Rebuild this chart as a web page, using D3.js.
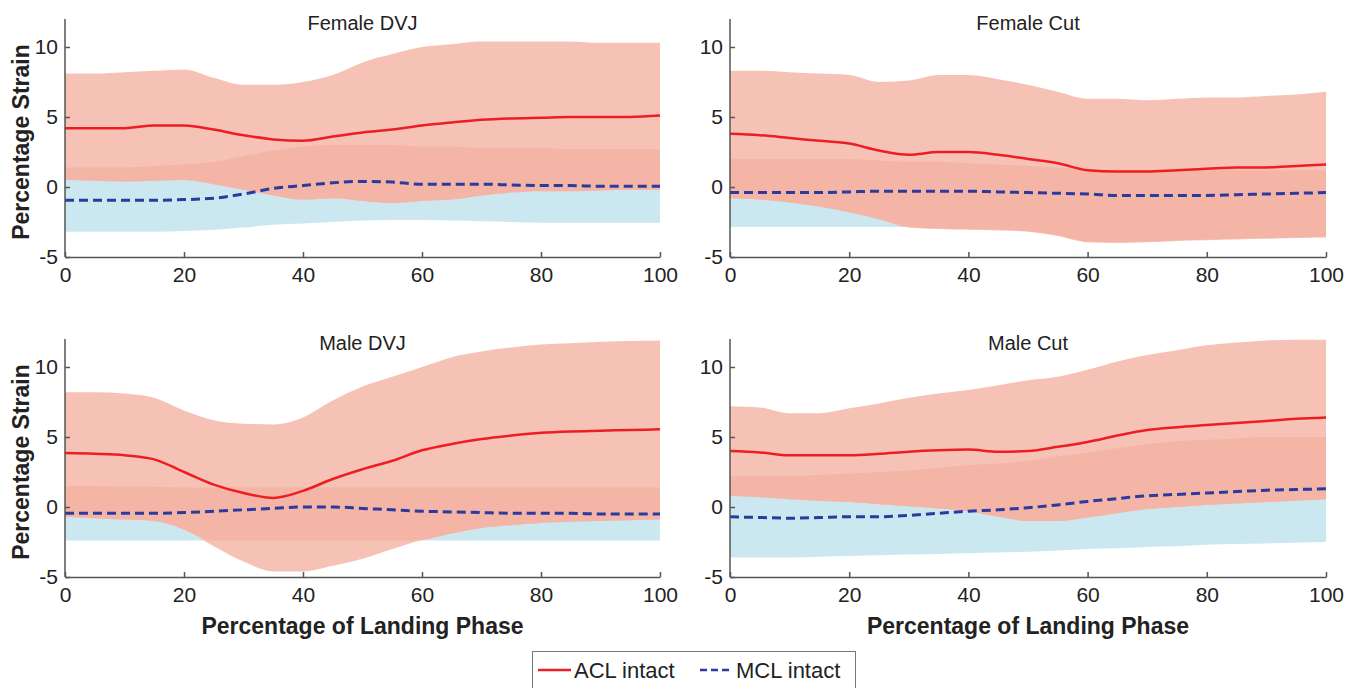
<!DOCTYPE html>
<html>
<head>
<meta charset="utf-8">
<script src="https://cdn.jsdelivr.net/npm/d3@7"></script>
<style>
  body { margin: 0; background: #fff; }
  svg text { font-family: "Liberation Sans", Arial, sans-serif; fill: #222; }
</style>
</head>
<body>
<svg id="chart" width="1361" height="688"></svg>
<script>
// landing phase samples (%)
var phase = [0,5,10,15,20,25,30,35,40,45,50,55,60,65,70,75,80,85,90,95,100];

var panelTitles = ["Female DVJ", "Female Cut", "Male DVJ", "Male Cut"];
var xTicks = [0, 20, 40, 60, 80, 100];
var yTicks = [-5, 0, 5, 10];
var seriesNames = ["ACL intact", "MCL intact"];

// ACL mean / upper / lower (mean +- SD)
var aclMean = [
  [4.2,4.2,4.2,4.4,4.4,4.1,3.7,3.4,3.3,3.6,3.9,4.1,4.4,4.6,4.8,4.9,4.95,5.0,5.0,5.0,5.1],
  [3.8,3.7,3.5,3.3,3.1,2.6,2.3,2.5,2.5,2.3,2.0,1.7,1.2,1.1,1.1,1.2,1.3,1.4,1.4,1.5,1.6],
  [3.85,3.8,3.7,3.4,2.5,1.6,1.0,0.65,1.15,2.0,2.7,3.3,4.05,4.5,4.85,5.1,5.3,5.4,5.45,5.5,5.55],
  [4.0,3.9,3.7,3.7,3.7,3.8,3.95,4.05,4.1,3.95,4.0,4.3,4.65,5.1,5.5,5.7,5.85,6.0,6.15,6.3,6.4]
];
var aclUpper = [
  [8.1,8.1,8.2,8.3,8.4,7.8,7.3,7.3,7.5,8.0,8.9,9.5,10.0,10.2,10.4,10.4,10.4,10.4,10.3,10.3,10.3],
  [8.3,8.3,8.2,8.1,8.0,7.5,7.6,8.0,8.0,7.7,7.3,6.8,6.3,6.3,6.2,6.3,6.4,6.4,6.5,6.6,6.8],
  [8.2,8.2,8.1,7.8,6.9,6.2,5.95,5.9,6.4,7.6,8.6,9.3,10.0,10.7,11.1,11.4,11.6,11.7,11.8,11.85,11.9],
  [7.2,7.1,6.7,6.7,7.05,7.4,7.8,8.1,8.35,8.7,9.05,9.3,9.8,10.4,10.85,11.2,11.55,11.75,11.9,11.95,11.95]
];
var aclLower = [
  [0.5,0.45,0.4,0.45,0.5,0.2,-0.2,-0.6,-0.9,-0.8,-1.0,-1.15,-1.0,-0.9,-0.6,-0.4,-0.3,-0.3,-0.25,-0.2,-0.2],
  [-0.8,-0.9,-1.1,-1.4,-1.8,-2.3,-2.9,-3.0,-3.05,-3.1,-3.2,-3.5,-3.95,-4.0,-3.95,-3.85,-3.8,-3.75,-3.7,-3.65,-3.6],
  [-0.7,-0.8,-0.9,-1.0,-1.6,-2.8,-3.9,-4.6,-4.6,-4.2,-3.7,-3.0,-2.35,-1.9,-1.5,-1.3,-1.15,-1.05,-1.0,-0.95,-0.9],
  [0.8,0.7,0.55,0.45,0.35,0.2,0.05,-0.1,-0.3,-0.7,-1.0,-1.0,-0.75,-0.45,-0.15,0.0,0.15,0.25,0.35,0.45,0.55]
];

// MCL mean / upper / lower
var mclMean = [
  [-0.95,-0.95,-0.95,-0.95,-0.9,-0.8,-0.5,-0.1,0.1,0.3,0.4,0.35,0.2,0.2,0.2,0.15,0.1,0.1,0.05,0.05,0.05],
  [-0.4,-0.4,-0.4,-0.4,-0.35,-0.3,-0.3,-0.3,-0.3,-0.35,-0.4,-0.45,-0.5,-0.6,-0.6,-0.6,-0.6,-0.55,-0.5,-0.45,-0.4],
  [-0.45,-0.45,-0.45,-0.45,-0.4,-0.3,-0.2,-0.1,0.0,0.0,-0.1,-0.2,-0.3,-0.35,-0.4,-0.45,-0.45,-0.45,-0.5,-0.5,-0.5],
  [-0.7,-0.75,-0.8,-0.75,-0.7,-0.7,-0.6,-0.45,-0.3,-0.2,-0.05,0.15,0.4,0.6,0.8,0.9,1.0,1.1,1.2,1.25,1.3]
];
var mclUpper = [
  [1.4,1.4,1.4,1.5,1.6,1.8,2.2,2.6,2.9,3.0,3.0,3.0,2.9,2.9,2.8,2.8,2.8,2.7,2.7,2.7,2.7],
  [2.0,2.0,2.0,2.0,2.0,1.9,1.8,1.8,1.7,1.6,1.5,1.4,1.3,1.2,1.2,1.2,1.2,1.2,1.2,1.2,1.2],
  [1.5,1.5,1.45,1.45,1.4,1.4,1.4,1.4,1.4,1.4,1.4,1.4,1.4,1.4,1.4,1.4,1.4,1.4,1.4,1.4,1.4],
  [2.2,2.2,2.2,2.3,2.4,2.5,2.6,2.8,3.0,3.1,3.3,3.6,3.9,4.2,4.5,4.7,4.8,4.9,5.0,5.0,5.0]
];
var mclLower = [
  [-3.2,-3.2,-3.2,-3.2,-3.15,-3.05,-2.9,-2.7,-2.6,-2.5,-2.4,-2.35,-2.35,-2.4,-2.45,-2.5,-2.55,-2.55,-2.55,-2.55,-2.55],
  [-2.85,-2.85,-2.85,-2.85,-2.85,-2.85,-2.85,-2.95,-3.0,-3.05,-3.15,-3.45,-3.9,-3.95,-3.9,-3.8,-3.75,-3.7,-3.65,-3.6,-3.55],
  [-2.4,-2.4,-2.4,-2.4,-2.4,-2.4,-2.4,-2.4,-2.4,-2.4,-2.4,-2.4,-2.4,-2.4,-2.4,-2.4,-2.4,-2.4,-2.4,-2.4,-2.4],
  [-3.6,-3.6,-3.6,-3.55,-3.5,-3.45,-3.4,-3.35,-3.3,-3.25,-3.2,-3.1,-3.0,-2.95,-2.85,-2.8,-2.7,-2.65,-2.6,-2.55,-2.5]
];

var colors = {acl: "#ee1d23", mcl: "#2b3a9e", aclBand: "#f7c2b6", mclBand: "#cbe8f1", overlap: "#f4b5a6"};

var svg = d3.select("#chart");

// panel boxes (plot area)
var panels = [
  {left: 65,  right: 660,  top: 19,  bottom: 257},
  {left: 730, right: 1326, top: 19,  bottom: 257},
  {left: 65,  right: 660,  top: 339, bottom: 577},
  {left: 730, right: 1326, top: 339, bottom: 577}
];

panels.forEach(function(p, k) {
  var x = d3.scaleLinear().domain([0, 100]).range([p.left, p.right]);
  var y = d3.scaleLinear().domain([-5, 12]).range([p.bottom, p.top]);
  var g = svg.append("g");

  var rows = phase.map(function(t, i) {
    var lo = Math.max(aclLower[k][i], mclLower[k][i]);
    var hi = Math.min(aclUpper[k][i], mclUpper[k][i]);
    return {t: t, am: aclMean[k][i], au: aclUpper[k][i], al: aclLower[k][i],
            mm: mclMean[k][i], mu: mclUpper[k][i], ml: mclLower[k][i],
            olo: lo, ohi: Math.max(lo, hi)};
  });

  var curve = d3.curveMonotoneX;
  function band(lo, hi) {
    return d3.area().curve(curve)
      .x(function(d) { return x(d.t); })
      .y0(function(d) { return y(d[lo]); })
      .y1(function(d) { return y(d[hi]); });
  }
  function line(key) {
    return d3.line().curve(curve)
      .x(function(d) { return x(d.t); })
      .y(function(d) { return y(d[key]); });
  }

  g.append("path").datum(rows).attr("d", band("ml", "mu")).attr("fill", colors.mclBand);
  g.append("path").datum(rows).attr("d", band("al", "au")).attr("fill", colors.aclBand);
  g.append("path").datum(rows).attr("d", band("olo", "ohi")).attr("fill", colors.overlap);

  g.append("path").datum(rows).attr("d", line("am"))
    .attr("fill", "none").attr("stroke", colors.acl).attr("stroke-width", 2.5);
  g.append("path").datum(rows).attr("d", line("mm"))
    .attr("fill", "none").attr("stroke", colors.mcl).attr("stroke-width", 3)
    .attr("stroke-dasharray", "9,5");

  // axes, matlab style: ticks inside, no box, plain hyphen minus
  var fmt = function(d) { return String(d); };
  var xAxis = g.append("g")
    .attr("transform", "translate(0," + p.bottom + ")")
    .call(d3.axisBottom(x).tickValues(xTicks).tickFormat(fmt).tickSizeInner(-5).tickSizeOuter(0).tickPadding(9));
  var yAxis = g.append("g")
    .attr("transform", "translate(" + p.left + ",0)")
    .call(d3.axisLeft(y).tickValues(yTicks).tickFormat(fmt).tickSizeInner(-5).tickSizeOuter(0).tickPadding(7));
  yAxis.select(".domain").attr("d", "M0," + p.bottom + "V" + p.top);

  [xAxis, yAxis].forEach(function(a) {
    a.select(".domain").attr("stroke", "#555").attr("stroke-width", 1.5);
    a.selectAll(".tick line").attr("stroke", "#555").attr("stroke-width", 1.5);
    a.selectAll(".tick text").attr("font-size", 21).attr("font-family", "Liberation Sans, Arial, sans-serif").attr("fill", "#222");
  });
  xAxis.selectAll(".tick text").attr("dy", "0.75em");

  g.append("text")
    .attr("x", (p.left + p.right) / 2)
    .attr("y", p.top + 11)
    .attr("text-anchor", "middle")
    .attr("font-size", 20)
    .text(panelTitles[k]);

  if (k % 2 === 0) {
    g.append("text")
      .attr("transform", "translate(29," + ((p.top + p.bottom) / 2 + 4) + ") rotate(-90)")
      .attr("text-anchor", "middle")
      .attr("font-size", 23)
      .attr("font-weight", "bold")
      .text("Percentage Strain");
  }
  if (k >= 2) {
    g.append("text")
      .attr("x", (p.left + p.right) / 2)
      .attr("y", 634)
      .attr("text-anchor", "middle")
      .attr("font-size", 23)
      .attr("font-weight", "bold")
      .text("Percentage of Landing Phase");
  }
});

// legend
var leg = svg.append("g");
leg.append("rect").attr("x", 532.5).attr("y", 651.5).attr("width", 323).attr("height", 45)
  .attr("fill", "#fff").attr("stroke", "#777").attr("stroke-width", 1);
var legItems = [
  {name: seriesNames[0], color: colors.acl, dash: null, x0: 538},
  {name: seriesNames[1], color: colors.mcl, dash: "7,4", x0: 700}
];
legItems.forEach(function(d) {
  leg.append("line").attr("x1", d.x0).attr("x2", d.x0 + 33).attr("y1", 670).attr("y2", 670)
    .attr("stroke", d.color).attr("stroke-width", 2.5).attr("stroke-dasharray", d.dash);
  leg.append("text").attr("x", d.x0 + 36).attr("y", 678).attr("font-size", 22).text(d.name);
});
</script>
</body>
</html>
